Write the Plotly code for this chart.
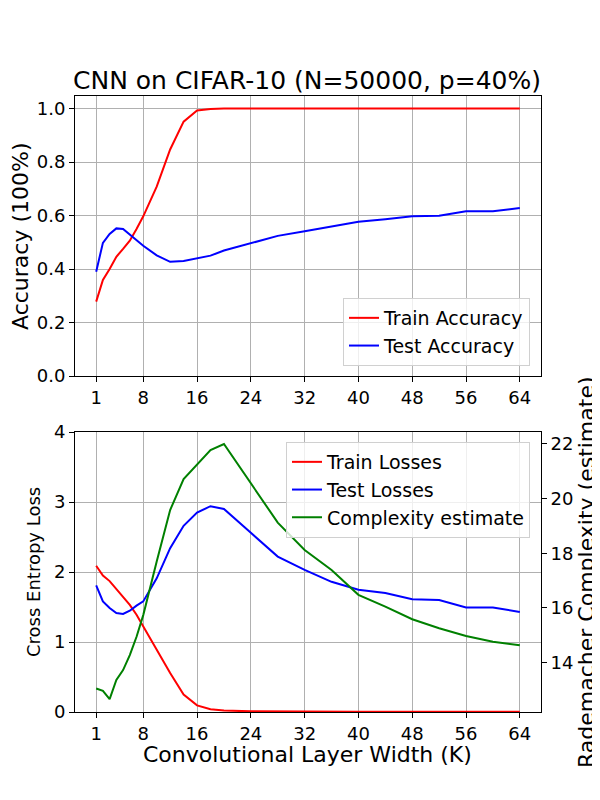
import plotly.graph_objects as go

K = [1, 2, 3, 4, 5, 6, 7, 8, 10, 12, 14, 16, 18, 20, 24, 28, 32, 36, 40, 44, 48, 52, 56, 60, 64]
train_acc = [0.278, 0.359, 0.40, 0.446, 0.475, 0.506, 0.55, 0.597, 0.708, 0.847, 0.951, 0.993, 0.998,
             1.0, 1.0, 1.0, 1.0, 1.0, 1.0, 1.0, 1.0, 1.0, 1.0, 1.0, 1.0]
test_acc = [0.39, 0.498, 0.531, 0.552, 0.55, 0.53, 0.508, 0.487, 0.451, 0.427, 0.43, 0.44, 0.45,
            0.469, 0.497, 0.524, 0.541, 0.558, 0.577, 0.586, 0.597, 0.599, 0.616, 0.616, 0.628]
train_loss = [2.09, 1.95, 1.87, 1.757, 1.65, 1.53, 1.39, 1.22, 0.89, 0.557, 0.25, 0.095, 0.04,
              0.02, 0.01, 0.006, 0.005, 0.004, 0.004, 0.003, 0.003, 0.003, 0.003, 0.003, 0.003]
test_loss = [1.81, 1.58, 1.486, 1.414, 1.40, 1.447, 1.52, 1.58, 1.91, 2.34, 2.66, 2.85, 2.94,
             2.90, 2.56, 2.22, 2.03, 1.86, 1.747, 1.70, 1.61, 1.60, 1.494, 1.494, 1.43]
complexity = [13.06, 12.97, 12.67, 13.37, 13.73, 14.28, 14.95, 15.74, 17.7, 19.58, 20.71, 21.25, 21.77,
              21.99, 20.56, 19.12, 18.12, 17.39, 16.48, 16.05, 15.59, 15.26, 14.98, 14.77, 14.64]
x_ticks = [1, 8, 16, 24, 32, 40, 48, 56, 64]

FONT = "DejaVu Sans"
OFF = 8  # page body margin
W, H = 600 - OFF, 800 - OFF


def px(x):
    return (x - OFF) / W


def py(y):
    return (H - (y - OFF)) / H


fig = go.Figure()

fig.add_trace(go.Scatter(x=K, y=train_acc, mode="lines", name="Train Accuracy",
                         line=dict(color="red", width=2), xaxis="x", yaxis="y", legend="legend"))
fig.add_trace(go.Scatter(x=K, y=test_acc, mode="lines", name="Test Accuracy",
                         line=dict(color="blue", width=2), xaxis="x", yaxis="y", legend="legend"))
fig.add_trace(go.Scatter(x=K, y=train_loss, mode="lines", name="Train Losses",
                         line=dict(color="red", width=2), xaxis="x2", yaxis="y2", legend="legend2"))
fig.add_trace(go.Scatter(x=K, y=test_loss, mode="lines", name="Test Losses",
                         line=dict(color="blue", width=2), xaxis="x2", yaxis="y2", legend="legend2"))
fig.add_trace(go.Scatter(x=K, y=complexity, mode="lines", name="Complexity estimate",
                         line=dict(color="green", width=2), xaxis="x2", yaxis="y3", legend="legend2"))

xdom = [px(75), px(541)]
top_dom = [py(376), py(96)]
bot_dom = [py(712), py(432)]

axis_common = dict(showline=True, linecolor="black", linewidth=1, mirror=True,
                   ticks="outside", ticklen=5, tickcolor="black", automargin=False,
                   gridcolor="#b0b0b0", gridwidth=0.8, zeroline=False,
                   tickfont=dict(family=FONT, size=18, color="black"))

ann = dict(xref="paper", yref="paper", showarrow=False, xanchor="center", yanchor="middle", borderpad=0)

fig.update_layout(
    width=W, height=H,
    margin=dict(l=0, r=0, t=0, b=0, pad=0, autoexpand=False),
    plot_bgcolor="white", paper_bgcolor="white",
    font=dict(family=FONT, color="black"),
    showlegend=True,
    xaxis=dict(domain=xdom, anchor="y", range=[-2.15, 67.15], tickvals=x_ticks, showgrid=True, **axis_common),
    yaxis=dict(domain=top_dom, anchor="x", range=[0, 1.047], tickvals=[0, 0.2, 0.4, 0.6, 0.8, 1.0],
               tickformat=".1f", showgrid=True, **axis_common),
    xaxis2=dict(domain=xdom, anchor="y2", range=[-2.15, 67.15], tickvals=x_ticks, showgrid=True, **axis_common),
    yaxis2=dict(domain=bot_dom, anchor="x2", range=[0, 4], tickvals=[0, 1, 2, 3, 4], showgrid=True, **axis_common),
    yaxis3=dict(overlaying="y2", side="right", anchor="x2", range=[12.2, 22.43],
                tickvals=[14, 16, 18, 20, 22], showgrid=False, showline=True, linecolor="black",
                ticks="outside", ticklen=5, tickcolor="black", zeroline=False, automargin=False,
                tickfont=dict(family=FONT, size=18, color="black")),
    legend=dict(x=px(530), y=py(366), xanchor="right", yanchor="bottom",
                bgcolor="rgba(255,255,255,0.8)", bordercolor="#d0d0d0", borderwidth=1,
                font=dict(family=FONT, size=19, color="black")),
    legend2=dict(x=px(530), y=py(442), xanchor="right", yanchor="top",
                 bgcolor="rgba(255,255,255,0.8)", bordercolor="#d0d0d0", borderwidth=1,
                 font=dict(family=FONT, size=19, color="black")),
    annotations=[
        dict(text="CNN on CIFAR-10 (N=50000, p=40%)", x=px(307), y=py(80),
             font=dict(family=FONT, size=25), **ann),
        dict(text="Accuracy (100%)", x=px(21), y=py(236), textangle=-90,
             font=dict(family=FONT, size=22), **ann),
        dict(text="Cross Entropy Loss", x=px(33), y=py(572), textangle=-90,
             font=dict(family=FONT, size=18), **ann),
        dict(text="Convolutional Layer Width (K)", x=px(307), y=py(754),
             font=dict(family=FONT, size=22), **ann),
        dict(text="Rademacher Complexity (estimate)", x=px(586), y=py(572), textangle=-90,
             font=dict(family=FONT, size=22), **ann),
    ],
)

fig.write_html("out.html")
